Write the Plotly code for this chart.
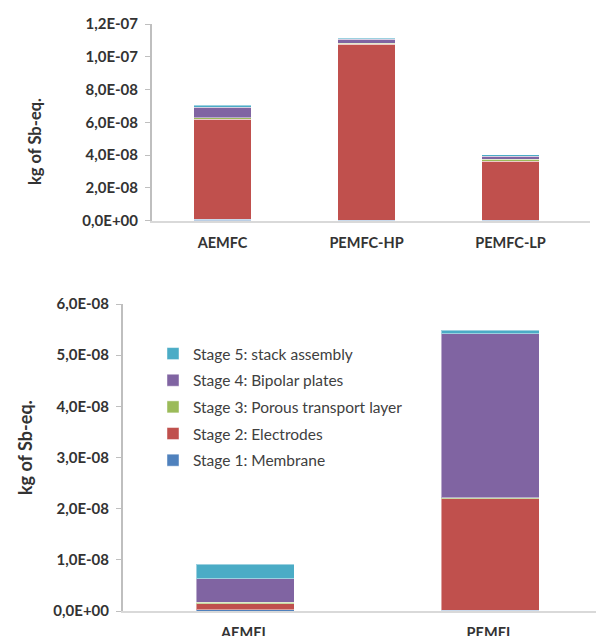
import plotly.graph_objects as go

# ---- data ----
fc_categories = ["AEMFC", "PEMFC-HP", "PEMFC-LP"]
el_categories = ["AEMEL", "PEMEL"]

stage_names = [
    "Stage 1: Membrane",
    "Stage 2: Electrodes",
    "Stage 3: Porous transport layer",
    "Stage 4: Bipolar plates",
    "Stage 5: stack assembly",
]
stage_colors = ["#4f81bd", "#c0504d", "#9bbb59", "#8064a2", "#4bacc6"]

fc_membrane = [8e-10, 2e-10, 1e-10]
fc_electrodes = [6.09e-8, 1.075e-7, 3.62e-8]
fc_ptl = [9e-10, 6e-10, 1.0e-9]
fc_bipolar = [6.6e-9, 2.4e-9, 2.0e-9]
fc_stack = [1.2e-9, 5e-10, 8e-10]

el_membrane = [2e-10, 1e-10]
el_electrodes = [1.25e-9, 2.18e-8]
el_ptl = [2.5e-10, 2.5e-10]
el_bipolar = [4.6e-9, 3.2e-8]
el_stack = [2.8e-9, 7e-10]

fc_tickvals = [0, 2e-8, 4e-8, 6e-8, 8e-8, 1e-7, 1.2e-7]
fc_ticktext = ["0,0E+00", "2,0E-08", "4,0E-08", "6,0E-08", "8,0E-08", "1,0E-07", "1,2E-07"]
el_tickvals = [0, 1e-8, 2e-8, 3e-8, 4e-8, 5e-8, 6e-8]
el_ticktext = ["0,0E+00", "1,0E-08", "2,0E-08", "3,0E-08", "4,0E-08", "5,0E-08", "6,0E-08"]

y_title = "kg of Sb-eq."

fc_series = [fc_membrane, fc_electrodes, fc_ptl, fc_bipolar, fc_stack]
el_series = [el_membrane, el_electrodes, el_ptl, el_bipolar, el_stack]

FONT = "Lato"
TXT = "#404040"
# page body has an 8px margin; figure sized so it fits the 604x636 window
OFF = 8
W, H = 604 - OFF, 636 - OFF

def px_x(p):
    return (p - OFF) / W

def px_y(p):
    return (H - (p - OFF)) / H

fig = go.Figure()
for i, (name, col) in enumerate(zip(stage_names, stage_colors)):
    fig.add_trace(go.Bar(
        x=fc_categories, y=fc_series[i], name=name, marker_color=col,
        marker_line=dict(color="rgba(255,255,255,0.45)", width=1),
        width=0.4, xaxis="x", yaxis="y", showlegend=False,
        legendgroup=name, legendrank=100 - i,
    ))
for i, (name, col) in enumerate(zip(stage_names, stage_colors)):
    fig.add_trace(go.Bar(
        x=el_categories, y=el_series[i], name=name, marker_color=col,
        marker_line=dict(color="rgba(255,255,255,0.45)", width=1),
        width=0.4, xaxis="x2", yaxis="y2", showlegend=True,
        legendgroup=name, legendrank=100 - i,
    ))

ytickfont = dict(family=FONT, size=15, color="#333333", weight="bold")
xtickfont = dict(family=FONT, size=14.5, color="#333333", weight="bold")

common_x = dict(
    showline=True, linecolor="#d9d9d9", linewidth=2,
    ticks="", tickfont=xtickfont, showgrid=False, zeroline=False,
    ticklabelstandoff=8, automargin=False,
)
common_y = dict(
    showline=True, linecolor="#bfbfbf", linewidth=2,
    ticks="outside", ticklen=5, tickcolor="#bfbfbf", tickwidth=1,
    tickfont=ytickfont, showgrid=False, zeroline=False, automargin=False,
    ticklabelstandoff=4,
)

fig.update_layout(
    width=W, height=H,
    margin=dict(l=0, r=0, t=0, b=0, autoexpand=False),
    paper_bgcolor="white", plot_bgcolor="white",
    barmode="stack",
    font=dict(family=FONT, color=TXT),
    xaxis=dict(domain=[px_x(152), px_x(590)], anchor="y",
               range=[-0.49, 2.552], **common_x),
    yaxis=dict(domain=[px_y(220.5), px_y(24)], anchor="x",
               range=[0, 1.2e-7], tickvals=fc_tickvals, ticktext=fc_ticktext,
               **common_y),
    xaxis2=dict(domain=[px_x(123), 1.0], anchor="y2",
                range=[-0.498, 1.465], **common_x),
    yaxis2=dict(domain=[px_y(611), px_y(304)], anchor="x2",
                range=[0, 6e-8], tickvals=el_tickvals, ticktext=el_ticktext,
                **common_y),
    legend=dict(
        x=px_x(153), y=px_y(337), xanchor="left", yanchor="top",
        traceorder="grouped", tracegroupgap=3.5,
        font=dict(family=FONT, size=15.5, color=TXT),
        bgcolor="rgba(0,0,0,0)",
    ),
    annotations=[
        dict(text=y_title, textangle=-90, xref="paper", yref="paper",
             x=px_x(35), y=px_y(142), xanchor="center", yanchor="middle",
             showarrow=False,
             font=dict(family=FONT, size=16.5, color="#333333", weight="bold")),
        dict(text=y_title, textangle=-90, xref="paper", yref="paper",
             x=px_x(25), y=px_y(448), xanchor="center", yanchor="middle",
             showarrow=False,
             font=dict(family=FONT, size=18, color="#333333", weight="bold")),
    ],
)

fig.write_html("out.html")
